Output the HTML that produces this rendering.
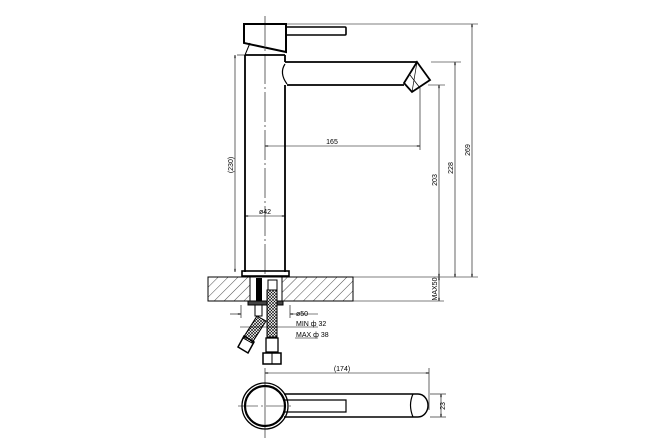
<!DOCTYPE html>
<html><head><style>body{margin:0;background:#fff}svg{display:block}text{font-family:"Liberation Sans Narrow","Liberation Sans",sans-serif;fill:#000}</style></head>
<body>
<svg width="666" height="444" viewBox="0 0 666 444" xmlns="http://www.w3.org/2000/svg">
<defs>
<pattern id="h" width="7" height="7" patternUnits="userSpaceOnUse" patternTransform="rotate(45)"><line x1="0" y1="0" x2="0" y2="7" stroke="#000" stroke-width="0.7"/></pattern>
<pattern id="b" width="3" height="3" patternUnits="userSpaceOnUse"><rect width="3" height="3" fill="#fff"/><path d="M0 0L3 3M3 0L0 3" stroke="#000" stroke-width="0.6"/></pattern>
<marker id="a" viewBox="0 0 6 4" refX="6" refY="2" markerWidth="6" markerHeight="4" orient="auto-start-reverse"><path d="M0 0L6 2L0 4" fill="none" stroke="#000" stroke-width="0.6"/></marker>
</defs>
<g fill="none" stroke="#000">
<!-- centerline -->
<line x1="265" y1="16" x2="265" y2="290" stroke-width="0.6" stroke-dasharray="30 3 2 3"/>
<!-- handle -->
<path d="M244 24H286V52L258 46L244 43Z" stroke-width="2"/>
<rect x="286" y="27" width="60" height="8" rx="1" stroke-width="1.6"/>
<path d="M250 43L245 55M258 46L286 52" stroke-width="1"/>
<!-- body -->
<path d="M245 55V272M285 55V62M285 85V272M245 55H285" stroke-width="1.8"/>
<!-- spout -->
<path d="M285 62H417M287 85H404" stroke-width="1.8"/>
<path d="M285 64Q279 73 287 84" stroke-width="1.2"/>
<path d="M417 62L430 80L412 92L404 83Z" stroke-width="1.8"/>
<path d="M417 62L412 92M410 75L420 88" stroke-width="0.7"/>
<!-- flange -->
<rect x="242" y="271" width="47" height="5" stroke-width="1.6"/>
<!-- counter -->
<rect x="208" y="277" width="145" height="24" fill="url(#h)" stroke-width="1"/>
<rect x="250" y="277" width="32" height="24" fill="#fff" stroke-width="1"/>
<rect x="256" y="278" width="6" height="23" fill="#000" stroke="none"/>
<rect x="268" y="280" width="9" height="10" stroke-width="1"/>
<rect x="248" y="301" width="35" height="4" fill="#444" stroke-width="1"/>
<rect x="255" y="305" width="7" height="11" stroke-width="1"/>
<!-- hoses -->
<rect x="267" y="290" width="10" height="47" fill="url(#b)" stroke-width="1"/>
<path d="M257 316L266 321L252 343L243 338Z" fill="url(#b)" stroke-width="1"/>
<path d="M244 336L254 342L248 353L238 347Z" stroke-width="1.5"/>
<rect x="266" y="338" width="12" height="14" stroke-width="1.3"/>
<rect x="263" y="353" width="18" height="11" stroke-width="1.5"/>
<line x1="272" y1="353" x2="272" y2="364" stroke-width="1"/>
<!-- dims -->
<g stroke-width="0.6">
<line x1="286" y1="24" x2="478" y2="24"/>
<line x1="431" y1="62" x2="461" y2="62"/>
<line x1="428" y1="85" x2="445" y2="85"/>
<line x1="353" y1="277" x2="478" y2="277"/>
<line x1="353" y1="301" x2="444" y2="301"/>
<line x1="472" y1="24" x2="472" y2="277" marker-start="url(#a)" marker-end="url(#a)"/>
<line x1="455" y1="62" x2="455" y2="277" marker-start="url(#a)" marker-end="url(#a)"/>
<line x1="439" y1="85" x2="439" y2="277" marker-start="url(#a)" marker-end="url(#a)"/>
<line x1="439" y1="277" x2="439" y2="301" marker-start="url(#a)" marker-end="url(#a)"/>
<line x1="420" y1="88" x2="420" y2="150"/>
<line x1="265" y1="146" x2="420" y2="146" marker-start="url(#a)" marker-end="url(#a)"/>
<line x1="237" y1="55" x2="245" y2="55"/>
<line x1="235" y1="55" x2="235" y2="272" marker-start="url(#a)" marker-end="url(#a)"/>
<line x1="245" y1="216" x2="285" y2="216" marker-start="url(#a)" marker-end="url(#a)"/>
<line x1="241" y1="305" x2="241" y2="318"/><line x1="290" y1="305" x2="290" y2="318"/>
<line x1="230" y1="314" x2="241" y2="314" marker-end="url(#a)"/>
<line x1="290" y1="314" x2="318" y2="314" marker-start="url(#a)"/>
<line x1="240" y1="327" x2="318" y2="327"/>
<line x1="295" y1="338" x2="318" y2="338"/>
<line x1="265" y1="368" x2="265" y2="438"/>
<line x1="429" y1="368" x2="429" y2="410"/>
<line x1="265" y1="373" x2="429" y2="373" marker-start="url(#a)" marker-end="url(#a)"/>
<line x1="430" y1="394" x2="446" y2="394"/><line x1="430" y1="417" x2="446" y2="417"/>
<line x1="441" y1="394" x2="441" y2="417" marker-start="url(#a)" marker-end="url(#a)"/>
<line x1="238" y1="406" x2="292" y2="406" stroke-dasharray="20 3 2 3"/>
</g>
<!-- top view -->
<circle cx="265" cy="406" r="23" stroke-width="1.3"/>
<circle cx="265" cy="406" r="20" stroke-width="2.2"/>
<path d="M284 394H418A10 11.5 0 0 1 418 417H284" stroke-width="1.4"/>
<path d="M413 394Q408 405 413 417" stroke-width="1.2"/>
<path d="M285 400H346V412H285" stroke-width="1.2"/>
</g>
<g font-size="7">
<text x="332" y="144" text-anchor="middle">165</text>
<text x="265" y="214" text-anchor="middle">ø42</text>
<text x="296" y="316">ø50</text>
<text x="296" y="326">MIN ф 32</text>
<text x="296" y="337">MAX ф 38</text>
<text x="342" y="371" text-anchor="middle">(174)</text>
<text transform="translate(233,165) rotate(-90)" text-anchor="middle">(230)</text>
<text transform="translate(437,180) rotate(-90)" text-anchor="middle">203</text>
<text transform="translate(453,168) rotate(-90)" text-anchor="middle">228</text>
<text transform="translate(470,150) rotate(-90)" text-anchor="middle">269</text>
<text transform="translate(437,289) rotate(-90)" text-anchor="middle">MAX50</text>
<text transform="translate(445,406) rotate(-90)" text-anchor="middle">23</text>
</g>
</svg>
</body></html>
